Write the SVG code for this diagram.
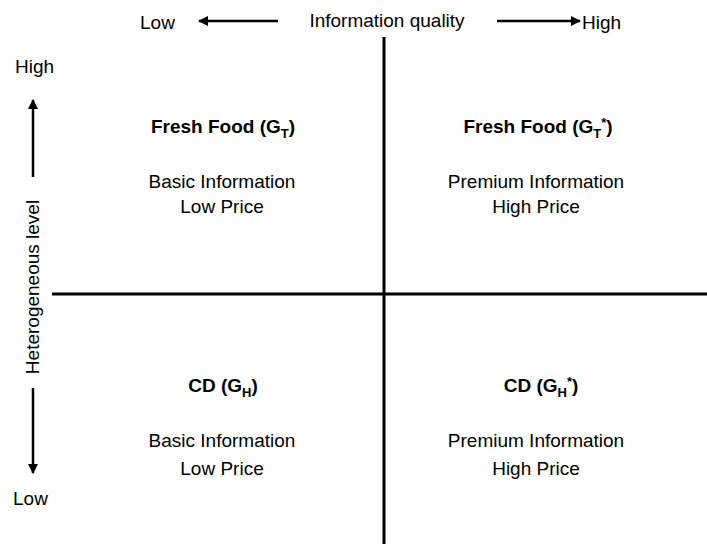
<svg xmlns="http://www.w3.org/2000/svg" width="707" height="544" viewBox="0 0 707 544">
<style>
text{font-family:"Liberation Sans",Arial,sans-serif;font-size:19px;fill:#000}
.b{font-weight:bold}
.ax{stroke:#000;stroke-width:3;fill:none}
.ar{stroke:#000;stroke-width:2.5;fill:none}
</style>
<defs>
<marker id="ah" viewBox="0 0 10 10" refX="9" refY="5" markerWidth="4" markerHeight="4" orient="auto" markerUnits="strokeWidth">
<path d="M0,0 L10,5 L0,10 z" fill="#000"/>
</marker>
</defs>
<rect width="707" height="544" fill="#fff"/>
<g id="connectors">
<line class="ax" x1="384" y1="37" x2="384" y2="544"/>
<line class="ax" x1="52" y1="294" x2="707" y2="294"/>
<line class="ar" x1="278" y1="21" x2="199" y2="21" marker-end="url(#ah)"/>
<line class="ar" x1="497" y1="21" x2="580" y2="21" marker-end="url(#ah)"/>
<line class="ar" x1="33" y1="177" x2="33" y2="100" marker-end="url(#ah)"/>
<line class="ar" x1="33" y1="388" x2="33" y2="473" marker-end="url(#ah)"/>
</g>
<g id="axis-labels">
<text x="140" y="29">Low</text>
<text x="387" y="27" text-anchor="middle">Information quality</text>
<text x="582" y="29">High</text>
<text x="15" y="73">High</text>
<text x="13" y="505">Low</text>
<text transform="translate(39,287) rotate(-90)" text-anchor="middle">Heterogeneous level</text>
</g>
<g id="q-top-left" text-anchor="middle">
<text class="b" x="223" y="133">Fresh Food (G<tspan font-size="13" dy="5">T</tspan><tspan dy="-5">)</tspan></text>
<text x="222" y="188">Basic Information</text>
<text x="222" y="213">Low Price</text>
</g>
<g id="q-top-right" text-anchor="middle">
<text class="b" x="538" y="133">Fresh Food (G<tspan font-size="13" dy="5">T</tspan><tspan font-size="13" dy="-11">*</tspan><tspan dy="6">)</tspan></text>
<text x="536" y="188">Premium Information</text>
<text x="536" y="213">High Price</text>
</g>
<g id="q-bottom-left" text-anchor="middle">
<text class="b" x="223" y="392">CD (G<tspan font-size="13" dy="5">H</tspan><tspan dy="-5">)</tspan></text>
<text x="222" y="447">Basic Information</text>
<text x="222" y="475">Low Price</text>
</g>
<g id="q-bottom-right" text-anchor="middle">
<text class="b" x="541" y="392">CD (G<tspan font-size="13" dy="5">H</tspan><tspan font-size="13" dy="-11">*</tspan><tspan dy="6">)</tspan></text>
<text x="536" y="447">Premium Information</text>
<text x="536" y="475">High Price</text>
</g>
</svg>
